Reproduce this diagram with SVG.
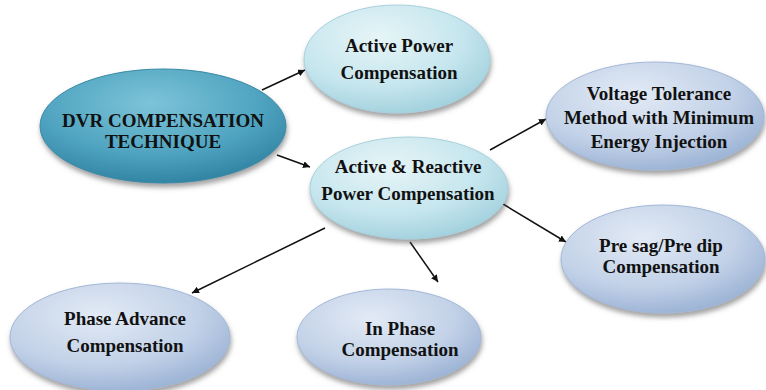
<svg xmlns="http://www.w3.org/2000/svg" width="766" height="390" viewBox="0 0 766 390">
<defs>
<style>
text{font-family:"Liberation Serif","Times New Roman",serif;font-weight:bold;font-size:19px;fill:#111;text-anchor:middle}
.conn line{stroke:#111;stroke-width:1.5;marker-end:url(#ah)}
.node ellipse{filter:url(#sh)}
</style>
<radialGradient id="gc" cx="0.4" cy="0.3" r="0.75">
<stop offset="0" stop-color="#e6f5f7"/>
<stop offset="0.6" stop-color="#c6e6ee"/>
<stop offset="1" stop-color="#9fcfdd"/>
</radialGradient>
<radialGradient id="gb" cx="0.4" cy="0.3" r="0.75">
<stop offset="0" stop-color="#e2eaf5"/>
<stop offset="0.6" stop-color="#c3d2e8"/>
<stop offset="1" stop-color="#98b0d3"/>
</radialGradient>
<radialGradient id="gd" cx="0.45" cy="0.3" r="0.75">
<stop offset="0" stop-color="#7cc4d8"/>
<stop offset="0.6" stop-color="#4fa3c0"/>
<stop offset="1" stop-color="#2c7f9e"/>
</radialGradient>
<filter id="sh" x="-20%" y="-20%" width="140%" height="150%">
<feDropShadow dx="1" dy="4" stdDeviation="2.5" flood-color="#555" flood-opacity="0.55"/>
</filter>
<marker id="ah" viewBox="0 0 10 10" refX="10" refY="5" markerWidth="7" markerHeight="7" markerUnits="userSpaceOnUse" orient="auto">
<path d="M0,0 L10,5 L0,10 z" fill="#111"/>
</marker>
</defs>
<rect width="766" height="390" fill="#fff"/>
<g id="connectors" class="conn">
<line x1="262" y1="90" x2="305" y2="70"/>
<line x1="277" y1="155" x2="310" y2="167"/>
<line x1="490" y1="150" x2="546" y2="119"/>
<line x1="503" y1="204" x2="566" y2="242"/>
<line x1="410" y1="242" x2="438" y2="282"/>
<line x1="325" y1="228" x2="192" y2="293"/>
</g>
<g id="dvr" class="node">
<ellipse cx="163" cy="126" rx="123" ry="57" fill="url(#gd)" stroke="#3a8aa6" stroke-width="1"/>
<text x="163" y="127">DVR COMPENSATION</text>
<text x="163" y="148">TECHNIQUE</text>
</g>
<g id="active" class="node">
<ellipse cx="397" cy="59" rx="93" ry="54" fill="url(#gc)" stroke="#a8d0dc" stroke-width="1"/>
<text x="399" y="52">Active Power</text>
<text x="399" y="79">Compensation</text>
</g>
<g id="activereactive" class="node">
<ellipse cx="409" cy="188" rx="99" ry="51" fill="url(#gc)" stroke="#a8d0dc" stroke-width="1"/>
<text x="408" y="173">Active &amp; Reactive</text>
<text x="408" y="200">Power Compensation</text>
</g>
<g id="voltage" class="node">
<ellipse cx="655" cy="116" rx="109" ry="54" fill="url(#gb)" stroke="#a3b7d6" stroke-width="1"/>
<text x="659" y="100">Voltage Tolerance</text>
<text x="659" y="124">Method with Minimum</text>
<text x="659" y="148">Energy Injection</text>
</g>
<g id="presag" class="node">
<ellipse cx="663" cy="259" rx="102" ry="54" fill="url(#gb)" stroke="#a3b7d6" stroke-width="1"/>
<text x="661" y="252">Pre sag/Pre dip</text>
<text x="661" y="273">Compensation</text>
</g>
<g id="phaseadvance" class="node">
<ellipse cx="120" cy="337" rx="110" ry="54" fill="url(#gb)" stroke="#a3b7d6" stroke-width="1"/>
<text x="125" y="325">Phase Advance</text>
<text x="125" y="352">Compensation</text>
</g>
<g id="inphase" class="node">
<ellipse cx="389" cy="337" rx="92" ry="48" fill="url(#gb)" stroke="#a3b7d6" stroke-width="1"/>
<text x="400" y="335">In Phase</text>
<text x="400" y="356">Compensation</text>
</g>
</svg>
